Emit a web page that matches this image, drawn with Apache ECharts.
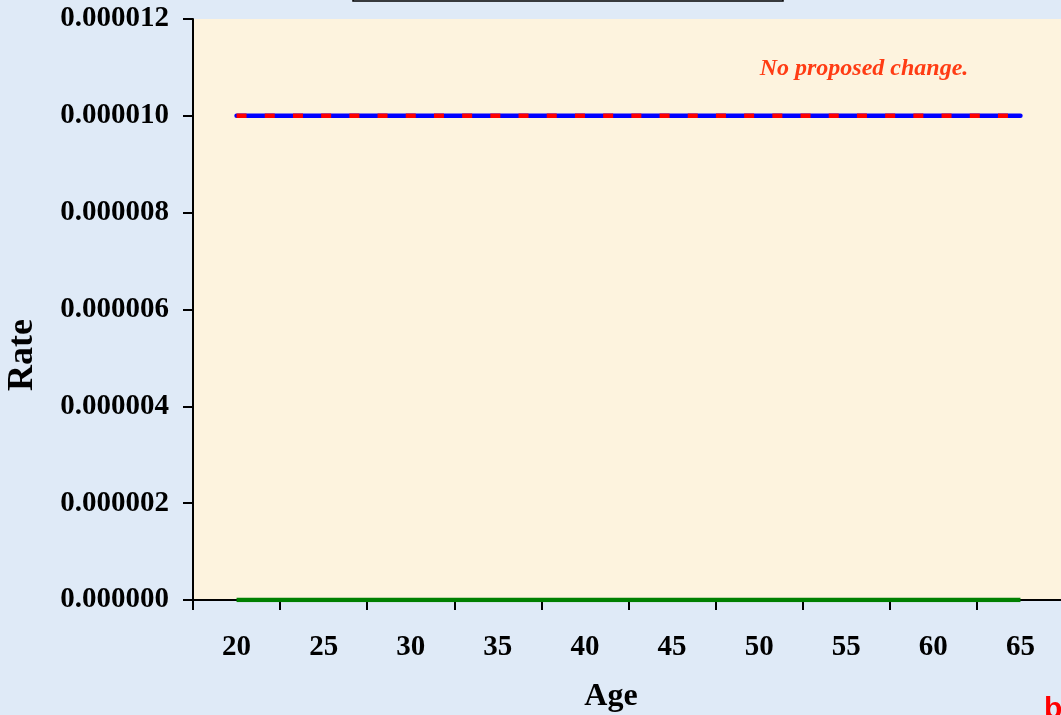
<!DOCTYPE html>
<html>
<head>
<meta charset="utf-8">
<script src="https://cdn.jsdelivr.net/npm/echarts@6/dist/echarts.min.js"></script>
<style>
  html, body { margin: 0; padding: 0; background: #dfeaf7; overflow: hidden; width: 1061px; height: 715px; }
  #chart { width: 1064px; height: 715px; }
</style>
</head>
<body>
<div id="chart"></div>
<script>
// Age groups on the horizontal axis
const ages = ['20', '25', '30', '35', '40', '45', '50', '55', '60', '65'];

// Rates by age
const currentRate = [0.00001, 0.00001, 0.00001, 0.00001, 0.00001, 0.00001, 0.00001, 0.00001, 0.00001, 0.00001];
const proposedRate = [0.00001, 0.00001, 0.00001, 0.00001, 0.00001, 0.00001, 0.00001, 0.00001, 0.00001, 0.00001];
const baseRate = [0, 0, 0, 0, 0, 0, 0, 0, 0, 0];

// Rate axis range
const rateMin = 0;
const rateMax = 0.000012;
const rateStep = 0.000002;

const serif = '"Liberation Serif", "Times New Roman", serif';

const chart = echarts.init(document.getElementById('chart'));

chart.setOption({
  backgroundColor: '#dfeaf7',
  animation: false,
  grid: {
    left: 193,
    right: 0,
    top: 19,
    bottom: 115,
    show: true,
    backgroundColor: '#fdf3de',
    borderWidth: 0
  },
  xAxis: {
    type: 'category',
    data: ages,
    boundaryGap: true,
    axisLine: { show: true, lineStyle: { color: '#000', width: 2 } },
    axisTick: { show: true, length: 10, interval: 0, lineStyle: { color: '#000', width: 2 } },
    axisLabel: { interval: 0, margin: 33, fontFamily: serif, fontWeight: 'bold', fontSize: 29, color: '#000' },
    splitLine: { show: false }
  },
  yAxis: {
    type: 'value',
    min: rateMin,
    max: rateMax,
    interval: rateStep,
    axisLine: { show: true, lineStyle: { color: '#000', width: 2 } },
    axisTick: { show: true, length: 10, lineStyle: { color: '#000', width: 2 } },
    axisLabel: {
      margin: 24,
      fontFamily: serif, fontWeight: 'bold', fontSize: 29, color: '#000',
      formatter: v => v.toFixed(6)
    },
    splitLine: { show: false }
  },
  series: [
    {
      name: 'Current',
      type: 'line',
      data: currentRate,
      showSymbol: false,
      lineStyle: { color: '#0000ff', width: 4.5, cap: 'round' },
      z: 2
    },
    {
      name: 'Proposed',
      type: 'line',
      data: proposedRate,
      showSymbol: false,
      lineStyle: { color: '#ff0000', width: 4.5, type: [10, 18.2], dashOffset: 0 },
      z: 3
    },
    {
      name: 'Base',
      type: 'line',
      data: baseRate,
      showSymbol: false,
      lineStyle: { color: '#008000', width: 4.5 },
      z: 2
    }
  ],
  graphic: [
    {
      type: 'rect',
      shape: { x: 353, y: -50, width: 430, height: 51 },
      style: { fill: 'none', stroke: '#000', lineWidth: 1.5 },
      silent: true
    },
    {
      // axis titles
      type: 'text',
      x: 611,
      y: 697,
      style: {
        text: 'Age',
        font: 'bold 32px ' + serif,
        fill: '#000',
        textAlign: 'center',
        textVerticalAlign: 'middle'
      },
      silent: true
    },
    {
      type: 'text',
      x: 23,
      y: 355,
      rotation: Math.PI / 2,
      style: {
        text: 'Rate',
        font: 'bold 36px ' + serif,
        fill: '#000',
        textAlign: 'center',
        textVerticalAlign: 'middle'
      },
      silent: true
    },
    {
      type: 'text',
      x: 864,
      y: 69,
      style: {
        text: 'No proposed change.',
        font: 'italic bold 24px ' + serif,
        fill: '#ff3c14',
        textAlign: 'center',
        textVerticalAlign: 'middle'
      },
      silent: true
    },
    {
      type: 'text',
      x: 1044,
      y: 695,
      style: {
        text: 'b',
        font: 'bold 30px "Liberation Sans", Arial, sans-serif',
        fill: '#ff0000',
        textAlign: 'left',
        textVerticalAlign: 'top'
      },
      silent: true
    }
  ]
});
</script>
</body>
</html>
